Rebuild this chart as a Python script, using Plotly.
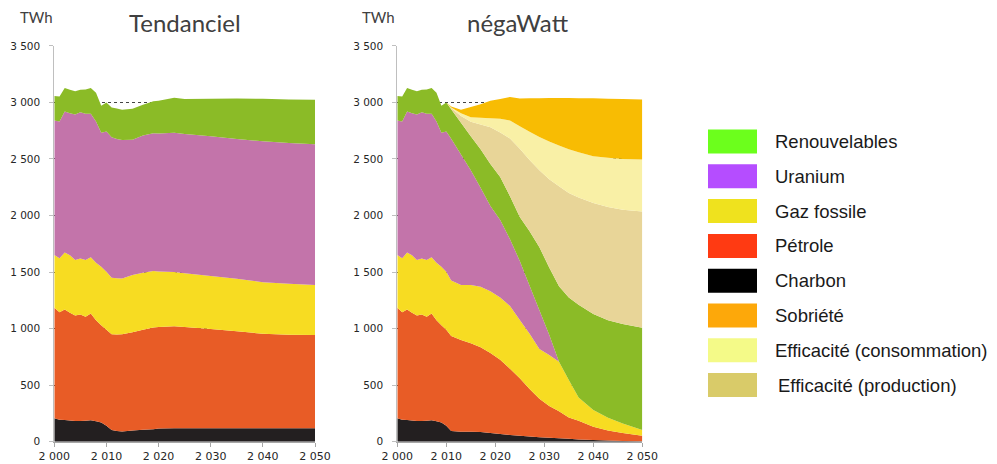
import plotly.graph_objects as go

# ---------------- data ----------------
years_tend = [2000, 2001, 2002, 2003, 2004, 2005, 2006, 2007, 2008, 2009, 2010,
              2011, 2012, 2013, 2015, 2017, 2019, 2020, 2023, 2025, 2030, 2035,
              2040, 2045, 2050]
tend_charbon = [207, 195, 192, 188, 182, 183, 185, 190, 180, 170, 140,
                104, 95, 90, 98, 105, 110, 116, 118, 118, 118, 118, 118, 118, 118]
tend_petrole = [977, 950, 977, 952, 933, 941, 919, 943, 894, 860, 851,
                846, 853, 860, 869, 886, 900, 899, 903, 897, 879, 858, 837, 828, 826]
tend_gaz = [467, 477, 503, 508, 492, 495, 503, 497, 509, 518, 512,
            500, 498, 494, 507, 503, 499, 491, 479, 475, 468, 465, 456, 451, 441]
tend_uranium = [1189, 1209, 1248, 1257, 1286, 1295, 1292, 1269, 1248, 1183, 1239,
                1242, 1231, 1223, 1197, 1213, 1219, 1219, 1231, 1232, 1236, 1236,
                1246, 1245, 1245]
tend_renouv = [216, 222, 207, 207, 207, 198, 216, 228, 254, 239, 258,
               264, 270, 268, 274, 273, 282, 290, 310, 308, 332, 358, 376, 385, 394]

years_nw = [2000, 2001, 2002, 2003, 2004, 2005, 2006, 2007, 2008, 2009, 2010,
            2011, 2013, 2015, 2017, 2019, 2021, 2023, 2025, 2027, 2029, 2031,
            2033, 2035, 2037, 2040, 2043, 2046, 2050]
nw_charbon = [207, 195, 192, 188, 182, 183, 185, 190, 180, 170, 140,
              95, 88, 88, 85, 76, 68, 60, 52, 46, 39, 34, 30, 25, 20, 15, 10, 6, 3]
nw_petrole = [977, 950, 977, 952, 933, 941, 919, 943, 894, 860, 851,
              840, 812, 782, 750, 709, 657, 585, 508, 419, 341, 281, 240, 190,
              165, 118, 90, 72, 49]
nw_gaz = [467, 477, 503, 508, 492, 495, 503, 497, 509, 518, 512,
          490, 485, 515, 535, 545, 550, 555, 516, 490, 440, 451, 437, 330, 205,
          147, 112, 82, 51]
nw_uranium = [1189, 1209, 1248, 1257, 1286, 1295, 1292, 1269, 1248, 1183, 1239,
              1255, 1155, 1015, 875, 755, 685, 590, 522, 425, 343, 179, 0, 0, 0,
              0, 0, 0, 0]
nw_renouv = [216, 222, 207, 207, 207, 198, 216, 228, 254, 239, 258,
             260, 280, 300, 340, 370, 380, 380, 390, 480, 557, 595, 668, 730, 820,
             850, 863, 880, 905]
nw_eff_prod = [0, 0, 0, 0, 0, 0, 0, 0, 0, 0, 0,
               10, 60, 130, 220, 325, 395, 512, 602, 630, 680, 780, 885, 925, 950,
               980, 1000, 1010, 1027]
nw_eff_conso = [0, 0, 0, 0, 0, 0, 0, 0, 0, 0, 0,
                5, 25, 40, 60, 80, 120, 158, 200, 250, 295, 335, 360, 385, 400,
                415, 435, 450, 460]
nw_sobriete = [0, 0, 0, 0, 0, 0, 0, 0, 0, 0, 0,
               10, 30, 90, 120, 155, 175, 209, 245, 296, 343, 385, 420, 455, 478,
               511, 523, 530, 531]

legend_labels = ["Renouvelables", "Uranium", "Gaz fossile", "Pétrole", "Charbon",
                 "Sobriété", "Efficacité (consommation)", "Efficacité (production)"]
legend_colors = ["#6CFF1C", "#B54DFF", "#EFE21E", "#FF3A12", "#000000",
                 "#FDA80A", "#F4FA88", "#D9CB69"]

x_ticks = [2000, 2010, 2020, 2030, 2040, 2050]
y_ticks = [0, 500, 1000, 1500, 2000, 2500, 3000, 3500]

# chart fill colours
C_CHARBON = "#231F20"
C_PETROLE = "#E85C26"
C_GAZ = "#F7DC22"
C_URANIUM = "#C374AA"
C_RENOUV = "#8BBB27"
C_PROD = "#E8D598"
C_CONSO = "#F9F0A6"
C_SOBR = "#F8BC03"

W, H = 997, 464

fig = go.Figure()


def add_stack(x, y, color, xa, ya, group):
    fig.add_trace(go.Scatter(
        x=x, y=y, stackgroup=group, mode="none", fillcolor=color,
        xaxis=xa, yaxis=ya, showlegend=False, hoverinfo="x+y"))


for vals, col in [(tend_charbon, C_CHARBON), (tend_petrole, C_PETROLE),
                  (tend_gaz, C_GAZ), (tend_uranium, C_URANIUM),
                  (tend_renouv, C_RENOUV)]:
    add_stack(years_tend, vals, col, "x", "y", "tend")

for vals, col in [(nw_charbon, C_CHARBON), (nw_petrole, C_PETROLE),
                  (nw_gaz, C_GAZ), (nw_uranium, C_URANIUM),
                  (nw_renouv, C_RENOUV), (nw_eff_prod, C_PROD),
                  (nw_eff_conso, C_CONSO), (nw_sobriete, C_SOBR)]:
    add_stack(years_nw, vals, col, "x2", "y2", "nw")


def px_x(p):
    return p / W


def px_y(p):
    return 1 - p / H


y_dom = [px_y(441.7), px_y(45.9)]

xaxis_common = dict(
    range=[2000, 2050], tickvals=x_ticks, separatethousands=True,
    showgrid=False, zeroline=False, showline=True, linecolor="#A6A6A6",
    linewidth=1, ticks="outside", ticklen=4, tickcolor="#A6A6A6",
    tickfont=dict(family="DejaVu Sans", size=11, color="#262626"),
    ticklabelstandoff=0, fixedrange=True, automargin=False)
yaxis_common = dict(
    range=[0, 3500], tickvals=y_ticks, separatethousands=True,
    showgrid=True, gridcolor="#444444", griddash="dot", gridwidth=1,
    zeroline=False, showline=True, linecolor="#BFBFBF", linewidth=1,
    ticks="outside", ticklen=4, tickcolor="#BFBFBF",
    tickfont=dict(family="DejaVu Sans", size=10.5, color="#262626"),
    ticklabelstandoff=7, domain=y_dom, fixedrange=True, automargin=False)

fig.update_layout(
    width=W, height=H,
    margin=dict(l=0, r=0, t=0, b=0, autoexpand=False),
    paper_bgcolor="white", plot_bgcolor="rgba(0,0,0,0)",
    separators=". ",
    showlegend=False,
    xaxis=dict(domain=[px_x(54.3), px_x(315)], anchor="y", **xaxis_common),
    yaxis=dict(anchor="x", **yaxis_common),
    xaxis2=dict(domain=[px_x(397.3), px_x(642.3)], anchor="y2", **xaxis_common),
    yaxis2=dict(anchor="x2", **yaxis_common),
)

annotations = [
    dict(text="Tendanciel", x=px_x(185), y=px_y(22), xref="paper", yref="paper",
         showarrow=False, xanchor="center", yanchor="middle",
         font=dict(family="Lato", size=24, color="#404040")),
    dict(text="négaWatt", x=px_x(518), y=px_y(22), xref="paper", yref="paper",
         showarrow=False, xanchor="center", yanchor="middle",
         font=dict(family="Lato", size=24, color="#404040")),
    dict(text="TWh", x=px_x(18), y=px_y(17), xref="paper", yref="paper",
         showarrow=False, xanchor="left", yanchor="middle",
         font=dict(family="Lato", size=15, color="#404040")),
    dict(text="TWh", x=px_x(360), y=px_y(17), xref="paper", yref="paper",
         showarrow=False, xanchor="left", yanchor="middle",
         font=dict(family="Lato", size=15, color="#404040")),
]

shapes = []
for i, (lab, col) in enumerate(zip(legend_labels, legend_colors)):
    cy = 141.5 + i * 34.8
    shapes.append(dict(type="rect", xref="paper", yref="paper",
                       x0=px_x(708), x1=px_x(757),
                       y0=px_y(cy + 12), y1=px_y(cy - 12),
                       fillcolor=col, line=dict(width=0)))
    tx = 776 if i == 7 else 773
    annotations.append(dict(text=lab, x=px_x(tx), y=px_y(cy), xref="paper",
                            yref="paper", showarrow=False, xanchor="left",
                            yanchor="middle",
                            font=dict(family="Liberation Sans", size=18.5,
                                      color="#1A1A1A")))

fig.update_layout(annotations=annotations, shapes=shapes)

fig.write_html("out.html")
